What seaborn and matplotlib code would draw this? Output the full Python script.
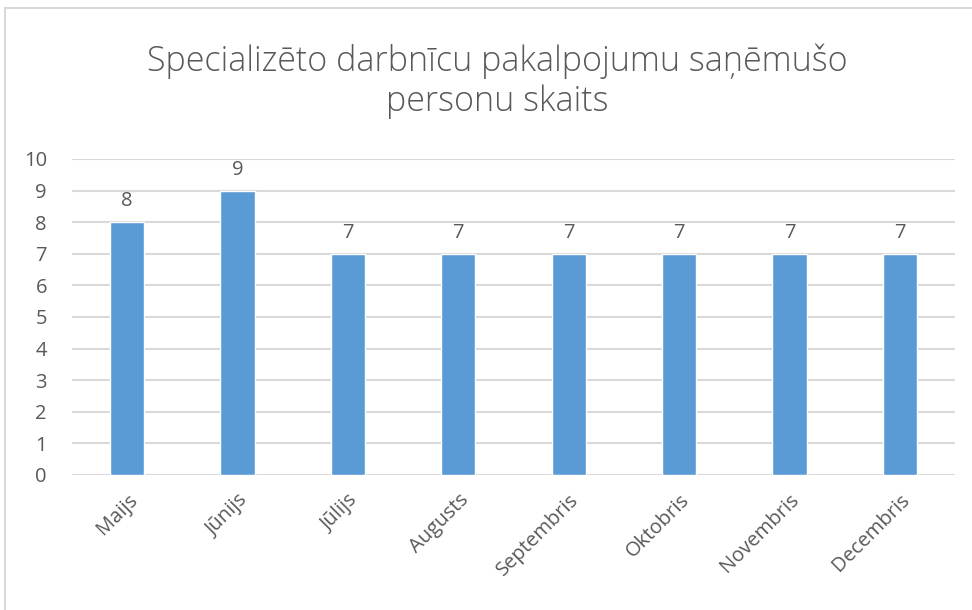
import matplotlib
matplotlib.use("Agg")
import matplotlib.pyplot as plt
import seaborn as sns
import pandas as pd
from matplotlib.patches import Rectangle

# Data
months = ["Maijs", "Jūnijs", "Jūlijs", "Augusts", "Septembris",
          "Oktobris", "Novembris", "Decembris"]
persons = [8, 9, 7, 7, 7, 7, 7, 7]
title = "Specializēto darbnīcu pakalpojumu saņēmušo\npersonu skaits"

df = pd.DataFrame({"Mēnesis": months, "Personas": persons})

sns.set_theme(style="white")
plt.rcParams["font.family"] = ["Open Sans", "DejaVu Sans"]

text_col = "#595959"
grid_col = "#d9d9d9"
bar_col = "#5b9bd5"

fig = plt.figure(figsize=(9.72, 6.10), dpi=100)
ax = fig.add_axes([72 / 972, 1 - 475 / 610, 883 / 972, 316 / 610])

sns.barplot(data=df, x="Mēnesis", y="Personas", color=bar_col,
            width=0.31, saturation=1, ax=ax, zorder=3)

ax.set_ylim(0, 10)
ax.set_yticks(range(0, 11))
ax.set_xlim(-0.5, len(months) - 0.5)
ax.yaxis.grid(True, color=grid_col, linewidth=1.5, zorder=0)
ax.set_axisbelow(True)
for s in ax.spines.values():
    s.set_visible(False)
ax.set_xlabel("")
ax.set_ylabel("")
ax.tick_params(axis="both", length=0, labelsize=14.5, labelcolor=text_col)
ax.tick_params(axis="y", pad=18)
plt.setp(ax.get_xticklabels(), rotation=45, ha="right", rotation_mode="anchor")
ax.tick_params(axis="x", pad=11)

for i, v in enumerate(persons):
    ax.text(i, v + 0.35, str(v), ha="center", va="bottom",
            fontsize=14.5, color=text_col)

fig.text(497 / 972, 1 - 81 / 610, title, ha="center", va="center",
         fontsize=24.5, color=text_col, fontweight="light", linespacing=1.22)

# chart frame
fig.patches.append(Rectangle((5 / 972, -0.05), 1.0, 1 - 8 / 610 + 0.05,
                             transform=fig.transFigure, fill=False,
                             edgecolor=grid_col, linewidth=1.5))

fig.savefig("out.png", dpi=100)
